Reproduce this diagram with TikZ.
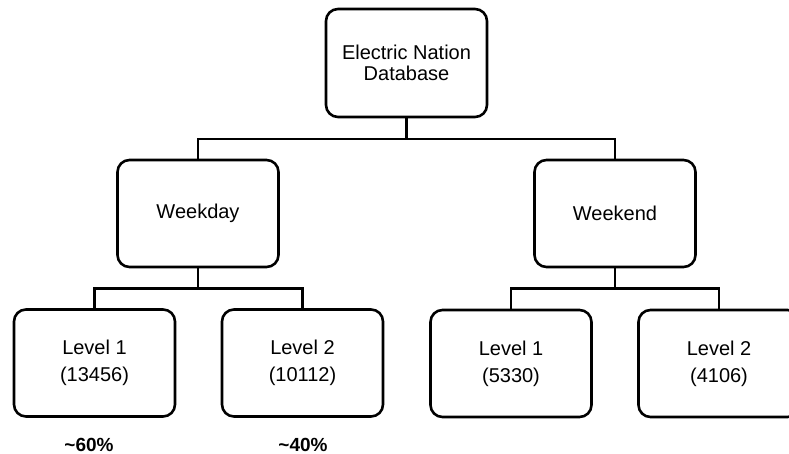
\documentclass[tikz,border=0pt]{standalone}
\usepackage{fontspec}
\setmainfont{Liberation Sans}
\begin{document}
\begin{tikzpicture}[x=1pt,y=-1pt,
  box/.style={draw=black,line width=2.6pt,rounded corners=12pt,fill=white,
    minimum width=161pt,minimum height=107pt,inner sep=0pt,align=center,
    font=\fontsize{20}{27}\selectfont},
  link/.style={draw=black,line width=2.6pt},
  pct/.style={font=\fontsize{19}{22}\selectfont\bfseries,inner sep=0pt}]
\clip (0,0) rectangle (789,454);
\fill[white] (0,0) rectangle (789,454);
\node[box,minimum height=108pt,font=\fontsize{20}{21}\selectfont] (top) at (406.5,63) {Electric Nation\\Database};
\node[box] (wd) at (198,213.5) {Weekday};
\node[box] (we) at (615,213.5) {Weekend};
\node[box] (wd1) at (94.5,363) {Level 1\\(13456)};
\node[box] (wd2) at (302.5,363) {Level 2\\(10112)};
\node[box] (we1) at (511,363.5) {Level 1\\(5330)};
\node[box] (we2) at (719,363.5) {Level 2\\(4106)};
\node[pct] (p1) at (89,445) {\raisebox{0pt}{\textasciitilde}60\%};
\node[pct] (p2) at (303,445) {\textasciitilde40\%};
\coordinate (j0) at (406.5,139);
\coordinate (j1) at (198,288.5);
\coordinate (j2) at (615,288.5);
\draw[link] (top.south) -- (j0);
\draw[link] (wd.north) |- (j0) -| (we.north);
\draw[link] (wd.south) -- (j1);
\draw[link] (wd1.north) |- (j1) -| (wd2.north);
\draw[link] (we.south) -- (j2);
\draw[link] (we1.north) |- (j2) -| (we2.north);
\end{tikzpicture}
\end{document}
